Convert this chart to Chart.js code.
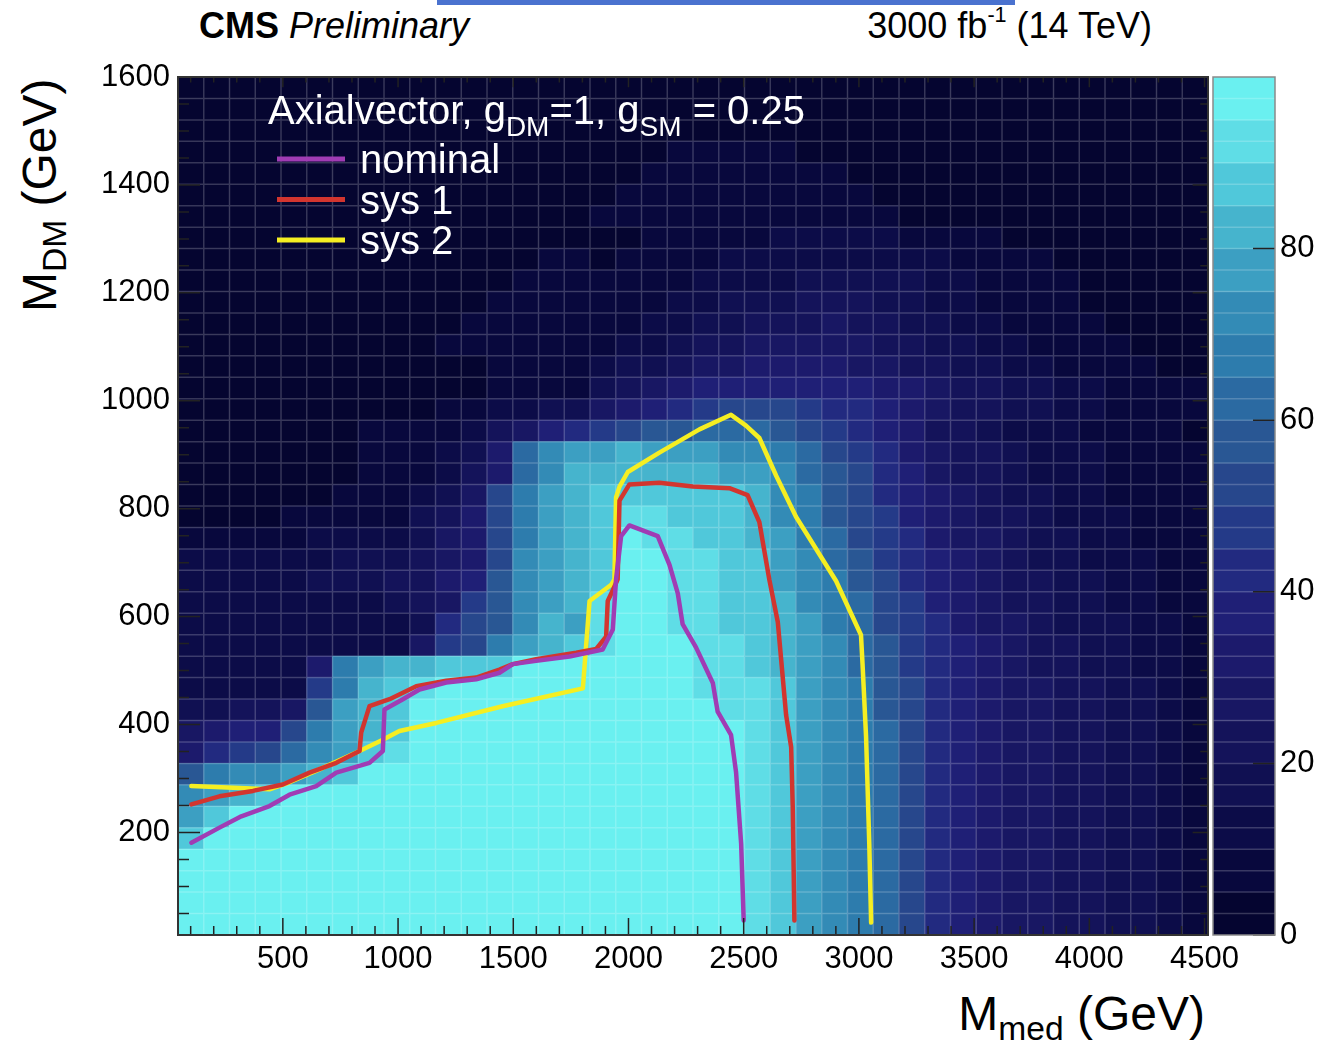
<!DOCTYPE html>
<html>
<head>
<meta charset="utf-8">
<title>CMS Preliminary - Axialvector</title>
<script src="https://cdn.jsdelivr.net/npm/chart.js@4.4.1/dist/chart.umd.min.js"></script>
<style>
  html, body { margin: 0; padding: 0; background: #fff; }
  body { position: relative; width: 1325px; height: 1047px; overflow: hidden;
         font-family: "Liberation Sans", Arial, Helvetica, sans-serif; color: #000; }
  canvas { position: absolute; top: 0; }
  #main { left: 0; }
  #cbar { left: 1190px; }
  .txt { position: absolute; white-space: nowrap; line-height: 1; }
  #topbar { position: absolute; left: 437px; top: 0; width: 578px; height: 5px; background: #4a72cf; }
  #cms { left: 199px; top: 8px; font-size: 36px; }
  #lumi { right: 173px; top: 8px; font-size: 36px; }
  #xtitle { right: 120px; top: 990px; font-size: 48px; }
  #ytitle { left: 0; top: 0; font-size: 48px; transform-origin: 0 0; transform: translate(16px, 312px) rotate(-90deg); }
  .sub { font-size: 0.7em; position: relative; top: 0.3em; }
  .sup { font-size: 0.6em; position: relative; top: -0.75em; }
</style>
</head>
<body>
<div id="topbar"></div>
<div class="txt" id="cms"><b>CMS</b> <i>Preliminary</i></div>
<div class="txt" id="lumi">3000 fb<span class="sup">-1</span> (14 TeV)</div>
<div class="txt" id="ytitle">M<span class="sub">DM</span> (GeV)</div>
<div class="txt" id="xtitle">M<span class="sub">med</span> (GeV)</div>
<canvas id="main" width="1325" height="1047"></canvas>
<canvas id="cbar" width="135" height="1047"></canvas>
<script>
// binning of the 2D histogram
const xMin = 45, xMax = 4515, nX = 40;
const yMin = 10, yMax = 1600, nY = 40;

const xTickVals = [500, 1000, 1500, 2000, 2500, 3000, 3500, 4000, 4500];
const yTickVals = [200, 400, 600, 800, 1000, 1200, 1400, 1600];
const zTickVals = [0, 20, 40, 60, 80];

// colour band index per cell (0..j = 0..19, each band 5 units wide), top row first
const heatRows = [
  '0000000000000000000000000000000000000000',
  '0000000000000000000000000000000000000000',
  '0000000000000000000000000000000000000000',
  '0000000000000000000111110000000000000000',
  '0000000000000000001111111100000000000000',
  '0000000000000000011111111110000000000000',
  '0000000000000000111111111111000000000000',
  '0000000000000000001111122222111100000000',
  '0000000000000011011112222222221111000000',
  '0000000000000111111122223333322111100000',
  '0000000000001111111223334443322111100000',
  '0000000000011111112233444544332211110000',
  '0000000000111111122344555554433221111000',
  '0000000000001111233455666655443322111100',
  '0000000000001111345677777776654433221111',
  '000000000011223356789aaa9887654433221111',
  '00000001111245789abbcccba987644322211110',
  '0000000111236ceffgfffeedca98654432221111',
  '0000000111246ceggggggffecba8754432221111',
  '000000111235adfghhhhhhgedba8765433221111',
  '000011111346adfghiihhhgedba9765443222111',
  '111112222356adfghjiihhgfdca9865543322111',
  '222222333456aefghjjiihhfecb9876543322211',
  '222223334467befghjjiihhfedba876544332211',
  '222222223459befgijjiihhgedca976544332211',
  '22222222238abegfijjiihhgfdca986554333221',
  '22222222259adfghijjjiihgfecb987654433221',
  '222226dfgghhhjjjjjjjiihgfecb987654433221',
  '222229dghijjjjjjjjjjiiihfedba87655443321',
  '33445bfghjjjjjjjjjjjjiihfedba87655443321',
  '5677adfghjjjjjjjjjjjjjihfedca87655443321',
  '689acefhijjjjjjjjjjjjjihfedca87655443321',
  'bdeefghjjjjjjjjjjjjjjjihfedca87655443321',
  'efghjjjjjjjjjjjjjjjjjjihfedca87655443321',
  'fhjjjjjjjjjjjjjjjjjjjjihfedca87655443321',
  'hjjjjjjjjjjjjjjjjjjjjjihfedca87655443321',
  'jjjjjjjjjjjjjjjjjjjjjjihfedca87655443321',
  'jjjjjjjjjjjjjjjjjjjjjjihfedca87655443321',
  'jjjjjjjjjjjjjjjjjjjjjjihfedca87655443321',
  'jjjjjjjjjjjjjjjjjjjjjjihfedca87655443321'
];

// contours (GeV)
const nominalX = [103, 225, 320, 442, 529, 645, 732, 876, 934, 941, 1021, 1093, 1209, 1339, 1440, 1498, 1599, 1744, 1888, 1932, 1946, 1968, 2004, 2127, 2178, 2214, 2235, 2293, 2366, 2387, 2445, 2467, 2489, 2500];
const nominalY = [181, 209, 230, 249, 270, 286, 311, 329, 351, 428, 447, 465, 478, 484, 496, 512, 518, 526, 539, 576, 669, 749, 769, 749, 696, 643, 586, 543, 477, 424, 381, 311, 179, 37];
const sys1X = [103, 225, 370, 500, 616, 732, 833, 840, 876, 963, 1079, 1209, 1339, 1440, 1498, 1599, 1773, 1860, 1903, 1910, 1932, 1953, 1961, 2004, 2134, 2279, 2438, 2517, 2568, 2611, 2648, 2684, 2706, 2713, 2720];
const sys1Y = [252, 267, 277, 289, 311, 329, 351, 385, 434, 447, 471, 481, 487, 502, 512, 521, 533, 540, 563, 629, 649, 669, 815, 845, 848, 841, 838, 825, 775, 669, 590, 418, 358, 245, 37];
const sys2X = [103, 442, 529, 659, 833, 934, 1006, 1166, 1454, 1802, 1831, 1925, 1939, 1946, 1961, 1997, 2134, 2308, 2445, 2510, 2568, 2641, 2727, 2901, 3009, 3016, 3031, 3045, 3053];
const sys2Y = [286, 280, 293, 317, 351, 372, 388, 403, 434, 467, 629, 659, 669, 821, 841, 868, 904, 947, 974, 954, 931, 861, 785, 666, 566, 510, 378, 179, 33];

const levelColors = ['#050530', '#08083d', '#0c0c48', '#101052', '#14135a', '#181763', '#1c1a6c', '#1f1f76',
  '#222a80', '#243a88', '#27478c', '#295794', '#2b6aa2', '#2d7cad', '#338bb6', '#3c9fc2',
  '#46b4cd', '#50c8da', '#5fdde6', '#6af0f0'];

const FONT = '"Liberation Sans", Arial, Helvetica, sans-serif';
const dx = (xMax - xMin) / nX, dy = (yMax - yMin) / nY;

const cells = [];
heatRows.forEach((row, r) => {
  const j = nY - 1 - r;
  for (let i = 0; i < nX; i++) {
    const band = parseInt(row[i], 20);
    cells.push({ x: xMin + (i + 0.5) * dx, y: [yMin + j * dy, yMin + (j + 1) * dy], z: band * 5 + 2.5 });
  }
});
const colorFor = z => levelColors[Math.max(0, Math.min(19, Math.floor(z / 5)))];
const toXY = (xs, ys) => xs.map((x, k) => ({ x, y: ys[k] }));

function contour(label, xs, ys, color) {
  return { type: 'line', label, data: toXY(xs, ys), borderColor: color, borderWidth: 4.5,
    pointRadius: 0, fill: false, tension: 0, borderJoinStyle: 'round', borderCapStyle: 'round', order: 0 };
}

// faint cell grid over the heat map
const cellGrid = {
  id: 'cellGrid',
  afterDatasetDraw(chart, args) {
    if (args.meta.type !== 'bar') return;
    const { ctx, chartArea: a, scales: { x, y } } = chart;
    ctx.save();
    ctx.beginPath();
    ctx.rect(a.left, a.top, a.right - a.left, a.bottom - a.top);
    ctx.clip();
    ctx.strokeStyle = 'rgba(255,255,255,0.2)';
    ctx.lineWidth = 1.5;
    ctx.beginPath();
    for (let i = 1; i < nX; i++) {
      const px = x.getPixelForValue(xMin + i * dx);
      ctx.moveTo(px, a.top); ctx.lineTo(px, a.bottom);
    }
    for (let j = 1; j < nY; j++) {
      const py = y.getPixelForValue(yMin + j * dy);
      ctx.moveTo(a.left, py); ctx.lineTo(a.right, py);
    }
    ctx.stroke();
    ctx.restore();
  }
};

// ROOT style frame with inward ticks
const frameTicks = {
  id: 'frameTicks',
  afterDatasetsDraw(chart) {
    const { ctx, chartArea: a, scales: { x, y } } = chart;
    ctx.save();
    ctx.strokeStyle = '#222';
    ctx.lineWidth = 1.5;
    ctx.beginPath();
    for (let v = 100; v <= xMax; v += 100) {
      const px = x.getPixelForValue(v);
      const len = v % 500 === 0 ? 17 : 9;
      ctx.moveTo(px, a.bottom); ctx.lineTo(px, a.bottom - len);
      ctx.moveTo(px, a.top); ctx.lineTo(px, a.top + len * 0.6);
    }
    for (let v = 50; v <= yMax; v += 50) {
      const py = y.getPixelForValue(v);
      const len = v % 200 === 0 ? 22 : 11;
      ctx.moveTo(a.left, py); ctx.lineTo(a.left + len, py);
      ctx.moveTo(a.right, py); ctx.lineTo(a.right - len * 0.7, py);
    }
    ctx.stroke();
    ctx.strokeStyle = '#333';
    ctx.lineWidth = 2;
    ctx.strokeRect(a.left, a.top, a.right - a.left, a.bottom - a.top);
    ctx.restore();
  }
};

// legend: header with subscripts and one line per contour
const legendTitle = [['Axialvector, g', 0], ['DM', 1], ['=1, g', 0], ['SM', 1], [' = 0.25', 0]];
const boxLegend = {
  id: 'boxLegend',
  afterDraw(chart) {
    const ctx = chart.ctx;
    ctx.save();
    ctx.fillStyle = '#fff';
    ctx.textBaseline = 'alphabetic';
    let px = 268;
    legendTitle.forEach(([t, sub]) => {
      ctx.font = (sub ? '28px ' : '40px ') + FONT;
      ctx.fillText(t, px, sub ? 136 : 124);
      px += ctx.measureText(t).width;
    });
    ctx.font = '40px ' + FONT;
    chart.data.datasets.filter(d => d.type === 'line').forEach((d, k) => {
      const ly = 159 + k * 40.5;
      ctx.strokeStyle = d.borderColor;
      ctx.lineWidth = 5;
      ctx.beginPath();
      ctx.moveTo(277, ly); ctx.lineTo(345, ly);
      ctx.stroke();
      ctx.fillText(d.label, 360, ly + 14);
    });
    ctx.restore();
  }
};

const tickFont = { family: FONT, size: 31 };

new Chart(document.getElementById('main'), {
  type: 'bar',
  data: {
    datasets: [
      contour('nominal', nominalX, nominalY, '#a03cb4'),
      contour('sys 1', sys1X, sys1Y, '#d2352f'),
      contour('sys 2', sys2X, sys2Y, '#f5ee22'),
      { type: 'bar', label: 'heat', data: cells, backgroundColor: c => colorFor(c.raw.z),
        borderWidth: 0, grouped: false, barPercentage: 1, categoryPercentage: 1, order: 1 }
    ]
  },
  options: {
    responsive: false, animation: false, devicePixelRatio: 1, events: [],
    layout: { padding: { left: 0, right: 117, top: 77, bottom: 0 } },
    plugins: { legend: { display: false }, tooltip: { enabled: false } },
    scales: {
      x: {
        type: 'linear', min: xMin, max: xMax, offset: false,
        grid: { display: false, drawTicks: false }, border: { display: false },
        ticks: { font: tickFont, color: '#000', padding: 6, maxRotation: 0, autoSkip: false, callback: v => String(v) },
        afterBuildTicks: s => { s.ticks = xTickVals.map(v => ({ value: v })); },
        afterFit: s => { s.height = 112; }
      },
      y: {
        type: 'linear', min: yMin, max: yMax,
        grid: { display: false, drawTicks: false }, border: { display: false },
        ticks: { font: tickFont, color: '#000', padding: 8, autoSkip: false, callback: v => String(v) },
        afterBuildTicks: s => { s.ticks = yTickVals.map(v => ({ value: v })); },
        afterFit: s => { s.width = 178; }
      }
    }
  },
  plugins: [cellGrid, frameTicks, boxLegend]
});

// colour scale
const bands = levelColors.map((c, k) => ({ x: 'c', y: [k * 5, k * 5 + 5] }));
const cbarDeco = {
  id: 'cbarDeco',
  afterDatasetsDraw(chart) {
    const { ctx, chartArea: a, scales: { y } } = chart;
    ctx.save();
    ctx.strokeStyle = 'rgba(255,255,255,0.2)';
    ctx.lineWidth = 1.5;
    ctx.beginPath();
    for (let k = 1; k < nY; k++) {
      const py = y.getPixelForValue(k * 100 / nY);
      ctx.moveTo(a.left, py); ctx.lineTo(a.right, py);
    }
    ctx.stroke();
    ctx.strokeStyle = '#222';
    ctx.lineWidth = 1.5;
    ctx.beginPath();
    zTickVals.forEach(v => {
      const py = y.getPixelForValue(v);
      ctx.moveTo(a.right - 22, py); ctx.lineTo(a.right, py);
    });
    ctx.stroke();
    ctx.strokeStyle = '#8a8a8a';
    ctx.lineWidth = 1.5;
    ctx.strokeRect(a.left, a.top, a.right - a.left, a.bottom - a.top);
    ctx.restore();
  }
};
new Chart(document.getElementById('cbar'), {
  type: 'bar',
  data: { labels: ['c'], datasets: [{ data: bands, backgroundColor: levelColors, borderWidth: 0,
    grouped: false, barPercentage: 1, categoryPercentage: 1 }] },
  options: {
    responsive: false, animation: false, devicePixelRatio: 1, events: [],
    layout: { padding: { left: 23, right: 0, top: 77, bottom: 112 } },
    plugins: { legend: { display: false }, tooltip: { enabled: false } },
    scales: {
      x: { type: 'category', display: false, offset: true },
      y: {
        type: 'linear', position: 'right', min: 0, max: 100,
        grid: { display: false, drawTicks: false }, border: { display: false },
        ticks: { font: tickFont, color: '#000', padding: 5, autoSkip: false, callback: v => String(v) },
        afterBuildTicks: s => { s.ticks = zTickVals.map(v => ({ value: v })); },
        afterFit: s => { s.width = 50; }
      }
    }
  },
  plugins: [cbarDeco]
});
</script>
</body>
</html>
